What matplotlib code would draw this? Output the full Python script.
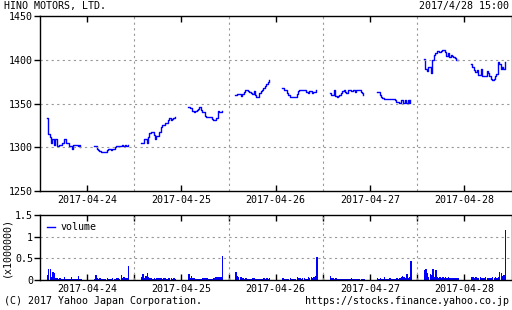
import numpy as np
import matplotlib.pyplot as plt
from matplotlib.lines import Line2D
from matplotlib.ticker import FixedLocator

plt.rcParams['font.family'] = ['DejaVu Sans Mono']
plt.rcParams['font.size'] = 7.2

days = ['2017-04-24', '2017-04-25', '2017-04-26', '2017-04-27', '2017-04-28']

# precio por sesion (manana, tarde), 25 puntos cada una
price_am = [
    [1334, 1315, 1312, 1305, 1310, 1303, 1310, 1302, 1302, 1303, 1303, 1305, 1309,
     1310, 1305, 1305, 1302, 1301, 1298, 1303, 1303, 1303, 1302, 1303, 1300],
    [1305, 1305, 1310, 1310, 1305, 1312, 1316, 1317, 1317, 1314, 1310, 1313, 1313,
     1318, 1323, 1326, 1326, 1328, 1328, 1331, 1333, 1331, 1332, 1333, 1335],
    [1360, 1361, 1361, 1361, 1359, 1361, 1363, 1366, 1366, 1364, 1363, 1362, 1361,
     1364, 1360, 1358, 1358, 1362, 1364, 1366, 1368, 1370, 1372, 1375, 1377],
    [1362, 1360, 1360, 1366, 1359, 1358, 1359, 1360, 1362, 1364, 1365, 1363, 1362,
     1366, 1366, 1364, 1364, 1366, 1363, 1365, 1366, 1365, 1363, 1362, 1360],
    [1401, 1390, 1387, 1392, 1392, 1385, 1400, 1405, 1408, 1410, 1410, 1409, 1410,
     1411, 1411, 1409, 1404, 1408, 1403, 1406, 1404, 1403, 1402, 1400, 1400],
]
price_pm = [
    [1302, 1302, 1298, 1297, 1296, 1295, 1295, 1295, 1295, 1297, 1298, 1298, 1297,
     1298, 1298, 1300, 1301, 1301, 1302, 1302, 1303, 1302, 1303, 1301, 1303],
    [1346, 1345, 1345, 1341, 1340, 1341, 1343, 1344, 1346, 1343, 1340, 1340, 1336,
     1335, 1335, 1335, 1335, 1332, 1331, 1331, 1333, 1342, 1340, 1340, 1342],
    [1368, 1366, 1365, 1362, 1360, 1358, 1357, 1357, 1357, 1358, 1361, 1364, 1366,
     1366, 1365, 1366, 1366, 1363, 1362, 1364, 1364, 1362, 1363, 1363, 1366],
    [1363, 1363, 1360, 1357, 1356, 1355, 1355, 1355, 1355, 1355, 1355, 1355, 1355,
     1354, 1352, 1352, 1351, 1354, 1354, 1351, 1354, 1351, 1354, 1351, 1354],
    [1395, 1392, 1388, 1386, 1388, 1383, 1383, 1389, 1382, 1381, 1381, 1387, 1385,
     1381, 1378, 1377, 1378, 1381, 1384, 1397, 1395, 1390, 1392, 1390, 1397],
]

# volumen en millones
vol_am = [
    [0.12, 0.25, 0.25, 0.08, 0.18, 0.16, 0.04, 0.04, 0.03, 0.04, 0.03, 0.03, 0.06,
     0.02, 0.03, 0.02, 0.03, 0.06, 0.02, 0.02, 0.03, 0.02, 0.10, 0.03, 0.02],
    [0.08, 0.14, 0.04, 0.10, 0.16, 0.06, 0.04, 0.05, 0.03, 0.04, 0.03, 0.05, 0.04,
     0.04, 0.05, 0.03, 0.04, 0.04, 0.03, 0.05, 0.04, 0.04, 0.03, 0.04, 0.03],
    [0.18, 0.09, 0.07, 0.08, 0.06, 0.04, 0.03, 0.05, 0.03, 0.03, 0.02, 0.03, 0.04,
     0.04, 0.02, 0.02, 0.03, 0.02, 0.03, 0.02, 0.04, 0.03, 0.04, 0.03, 0.05],
    [0.09, 0.05, 0.04, 0.03, 0.04, 0.02, 0.03, 0.02, 0.03, 0.02, 0.02, 0.03, 0.02,
     0.03, 0.02, 0.04, 0.03, 0.03, 0.02, 0.03, 0.02, 0.03, 0.02, 0.02, 0.03],
    [0.22, 0.26, 0.17, 0.08, 0.14, 0.12, 0.25, 0.06, 0.22, 0.07, 0.05, 0.06, 0.04,
     0.07, 0.05, 0.06, 0.04, 0.06, 0.05, 0.04, 0.05, 0.04, 0.05, 0.04, 0.05],
]
vol_pm = [
    [0.02, 0.12, 0.04, 0.03, 0.05, 0.03, 0.02, 0.03, 0.02, 0.04, 0.02, 0.03, 0.02,
     0.05, 0.03, 0.02, 0.04, 0.05, 0.03, 0.11, 0.04, 0.06, 0.05, 0.05, 0.32],
    [0.15, 0.04, 0.10, 0.04, 0.05, 0.03, 0.03, 0.03, 0.03, 0.03, 0.04, 0.04, 0.05,
     0.05, 0.03, 0.03, 0.03, 0.02, 0.05, 0.07, 0.08, 0.06, 0.08, 0.07, 0.55],
    [0.04, 0.03, 0.03, 0.02, 0.03, 0.04, 0.02, 0.03, 0.02, 0.02, 0.06, 0.05, 0.04,
     0.03, 0.05, 0.04, 0.03, 0.03, 0.06, 0.04, 0.07, 0.05, 0.08, 0.10, 0.52],
    [0.04, 0.02, 0.04, 0.02, 0.02, 0.06, 0.03, 0.02, 0.03, 0.04, 0.03, 0.03, 0.02,
     0.03, 0.04, 0.03, 0.04, 0.06, 0.09, 0.06, 0.05, 0.14, 0.04, 0.06, 0.45],
    [0.08, 0.06, 0.05, 0.06, 0.04, 0.05, 0.06, 0.04, 0.05, 0.04, 0.06, 0.04, 0.05,
     0.05, 0.04, 0.06, 0.05, 0.07, 0.05, 0.06, 0.19, 0.16, 0.10, 0.12, 1.15],
]

blue = '#0000ff'
grid_kw = dict(color='#999999', ls=(0, (2, 3)), lw=0.8)

# eje x: horas, cada dia de 8:30 a 15:30 (7 h)
def xs(d, h0, h1):
    return d * 7 + np.linspace(h0, h1, 25) - 8.5

fig = plt.figure(figsize=(5.12, 3.10), dpi=100)
W, H = 512, 310
ax = fig.add_axes([40 / W, 1 - 191 / H, 471.5 / W, 175 / H])
av = fig.add_axes([40 / W, 1 - 280 / H, 471.5 / W, 65 / H])

for d in range(5):
    ax.plot(xs(d, 9, 11.5), price_am[d], c=blue, lw=1, drawstyle='steps-post')
    ax.plot(xs(d, 12.5, 15), price_pm[d], c=blue, lw=1, drawstyle='steps-post')
    av.bar(xs(d, 9, 11.5), vol_am[d], width=0.1, color=blue, align='edge', lw=0)
    av.bar(xs(d, 12.5, 15), vol_pm[d], width=0.1, color=blue, align='edge', lw=0)

centers = [d * 7 + 3.5 for d in range(5)]
bounds = [d * 7 for d in range(1, 5)]

for a in (ax, av):
    a.set_xlim(0, 35)
    a.set_xticks(centers)
    a.set_xticklabels(days)
    for b in bounds:
        a.axvline(b, **grid_kw)
    a.tick_params(axis='x', direction='in', top=True, length=4, width=1, pad=3)
    a.tick_params(axis='y', direction='out', length=4, width=1, pad=1)
    for s in a.spines.values():
        s.set_linewidth(1)

av.xaxis.set_minor_locator(FixedLocator(bounds))
av.tick_params(axis='x', which='minor', direction='in', top=True, length=4, width=1)

ax.set_ylim(1250, 1450)
ax.set_yticks([1250, 1300, 1350, 1400, 1450])
for v in [1300, 1350, 1400]:
    ax.axhline(v, **grid_kw)
ax.tick_params(axis='y', right=True)

av.set_ylim(0, 1.5)
av.set_yticks([0, 0.5, 1, 1.5])
av.set_yticklabels(['0', '0.5', '1', '1.5'])
for v in [0.5, 1]:
    av.axhline(v, **grid_kw)
av.tick_params(axis='y', right=True)
av.legend([Line2D([], [], color=blue, lw=1)], ['volume'], loc='upper left',
          frameon=False, handlelength=0.8, handletextpad=0.6, borderaxespad=0.3)
fig.text(6 / W, 1 - 247 / H, '(x1000000)', rotation=90, ha='center', va='center')

fig.text(4 / W, 1 - 1 / H, 'HINO MOTORS, LTD.', ha='left', va='top')
fig.text(509 / W, 1 - 1 / H, '2017/4/28 15:00', ha='right', va='top')
fig.text(4 / W, 1 - 301 / H, '(C) 2017 Yahoo Japan Corporation.', ha='left', va='center')
fig.text(509 / W, 1 - 301 / H, 'https://stocks.finance.yahoo.co.jp', ha='right', va='center')

fig.savefig('out.png', dpi=100)
